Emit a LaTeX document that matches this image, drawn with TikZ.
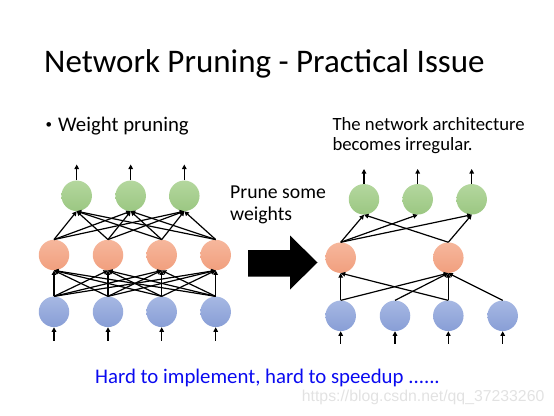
\documentclass[tikz,border=0pt]{standalone}
\usepackage{fontspec}
\setmainfont{Carlito}
\newfontfamily\wmfont{Liberation Sans}
\usetikzlibrary{arrows.meta}
\definecolor{Gtop}{HTML}{B4D79E}
\definecolor{Gbot}{HTML}{9BC782}
\definecolor{Otop}{HTML}{F6B79C}
\definecolor{Obot}{HTML}{F19F7E}
\definecolor{Btop}{HTML}{A6B8E3}
\definecolor{Bbot}{HTML}{889ED6}
\definecolor{hardblue}{HTML}{0A0AF0}
\definecolor{wmgray}{HTML}{E2E2E2}
\begin{document}
\begin{tikzpicture}[x=1pt,y=-1pt,
  neuron/.style={circle, minimum size=30.5pt, inner sep=0pt, draw=none},
  gnode/.style={neuron, top color=Gtop, bottom color=Gbot},
  onode/.style={neuron, top color=Otop, bottom color=Obot},
  bnode/.style={neuron, top color=Btop, bottom color=Bbot},
  conn/.style={-{Triangle[length=4.5pt,width=4.5pt]}, line width=1.2pt, black},
  txt/.style={inner sep=0pt, anchor=base west, text=black}
]
\useasboundingbox (0,0) rectangle (554,415);

% texts
\node[txt, font=\fontsize{33}{36}\selectfont] (title) at (44,72.3) {Network Pruning - Practical Issue};
\node[txt, font=\fontsize{13}{16}\selectfont] (bul) at (45.5,128.5) {•};
\node[txt, font=\fontsize{20.8}{24}\selectfont] (wp) at (58,131.7) {Weight pruning};
\node[txt, font=\fontsize{18.7}{20}\selectfont] (arch1) at (332.3,130) {The network architecture};
\node[txt, font=\fontsize{18.7}{20}\selectfont] (arch2) at (332.3,150.5) {becomes irregular.};
\node[txt, font=\fontsize{19.7}{22}\selectfont] (pr1) at (230,198) {Prune some};
\node[txt, font=\fontsize{19.7}{22}\selectfont] (pr2) at (230,220) {weights};
\node[txt, text=hardblue, font=\fontsize{20.8}{24}\selectfont] (hard) at (95,383.3) {Hard to implement, hard to speedup ......};
\node[txt, text=wmgray, font=\wmfont\fontsize{15.8}{18}\selectfont] (wm) at (301.7,401.7) {https://blog.csdn.net/qq\_37233260};

% block arrow
\fill[black] (248,250) -- (290,250) -- (290,235.5) -- (317.5,262.5) -- (290,289.5) -- (290,276.5) -- (248,276.5) -- cycle;

% left network
\foreach \i/\x in {1/54,2/108,3/161.7,4/215.7}{
  \node[bnode] (lb\i) at (\x,311.8) {};
  \node[onode] (lo\i) at (\x,255) {};
  \coordinate (lin\i) at (\x,340.5);
  \draw[conn] (lin\i) -- (lb\i.south);
}
\foreach \i/\x in {1/76.7,2/130.7,3/184.3}{
  \node[gnode] (lg\i) at (\x,195.8) {};
  \coordinate (lout\i) at (\x,164.5);
  \draw[conn] (lg\i.north) -- (lout\i);
}
\foreach \i in {1,2,3,4}{
  \foreach \j in {1,2,3,4}{
    \draw[conn] (lb\i.north) -- (lo\j.south);
  }
  \foreach \j in {1,2,3}{
    \draw[conn] (lo\i.north) -- (lg\j.south);
  }
}

% right network
\foreach \i/\x in {1/340.7,2/395,3/448.3,4/502.7}{
  \node[bnode] (rb\i) at (\x,315.8) {};
  \coordinate (rin\i) at (\x,343.5);
  \draw[conn] (rin\i) -- (rb\i.south);
}
\node[onode] (ro1) at (340.7,257.7) {};
\node[onode] (ro2) at (448.3,257.7) {};
\foreach \i/\x in {1/364,2/417.7,3/471.7}{
  \node[gnode] (rg\i) at (\x,199.3) {};
  \coordinate (rout\i) at (\x,169);
  \draw[conn] (rg\i.north) -- (rout\i);
}
\draw[conn] (rb1.north) -- (ro1.south);
\draw[conn] (rb1.north) -- (ro2.south);
\draw[conn] (rb2.north) -- (ro2.south);
\draw[conn] (rb3.north) -- (ro1.south);
\draw[conn] (rb3.north) -- (ro2.south);
\draw[conn] (rb4.north) -- (ro2.south);
\draw[conn] (ro1.north) -- (rg1.south);
\draw[conn] (ro1.north) -- (rg2.south);
\draw[conn] (ro1.north) -- (rg3.south);
\draw[conn] (ro2.north) -- (rg1.south);
\draw[conn] (ro2.north) -- (rg3.south);
\end{tikzpicture}
\end{document}
